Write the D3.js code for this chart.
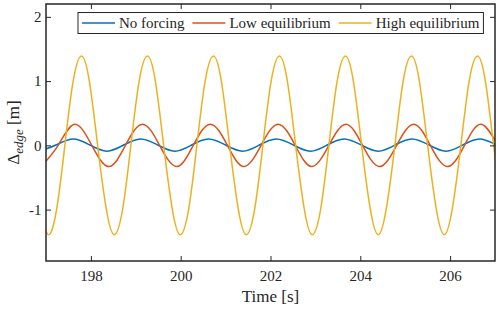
<!DOCTYPE html>
<html>
<head>
<meta charset="utf-8">
<script src="https://cdn.jsdelivr.net/npm/d3@7"></script>
<style>
  body { margin: 0; background: #fff; }
  svg { display: block; }
</style>
</head>
<body>
<div id="chart"></div>
<script>
// values (time in s, displacement in m)
var seriesNames = ["No forcing", "Low equilibrium", "High equilibrium"];
var seriesColors = ["#0072BD", "#D95319", "#EDB120"];
var serifFont = "Liberation Serif";
var inkColor = "#262626";

var noForcingT = [196.85, 197.22, 197.60, 197.98, 198.36, 198.73, 199.11, 199.49, 199.87, 200.24,
  200.62, 201.00, 201.38, 201.75, 202.13, 202.51, 202.89, 203.26, 203.64, 204.02,
  204.40, 204.77, 205.15, 205.53, 205.91, 206.28, 206.66, 207.04, 207.42];
var noForcingV = [-0.09, 0.005, 0.10, 0.005, -0.09, 0.005, 0.10, 0.005, -0.09, 0.005,
  0.10, 0.005, -0.09, 0.005, 0.10, 0.005, -0.09, 0.005, 0.10, 0.005,
  -0.09, 0.005, 0.10, 0.005, -0.09, 0.005, 0.10, 0.005, -0.09];

var lowEqT = [196.89, 197.27, 197.64, 198.02, 198.40, 198.77, 199.15, 199.53, 199.91, 200.28,
  200.66, 201.04, 201.41, 201.79, 202.17, 202.55, 202.92, 203.30, 203.68, 204.05,
  204.43, 204.81, 205.19, 205.56, 205.94, 206.32, 206.69, 207.07, 207.45];
var lowEqV = [-0.33, 0, 0.33, 0, -0.33, 0, 0.33, 0, -0.33, 0,
  0.33, 0, -0.33, 0, 0.33, 0, -0.33, 0, 0.33, 0,
  -0.33, 0, 0.33, 0, -0.33, 0, 0.33, 0, -0.33];

var highEqT = [196.87, 197.05, 197.24, 197.42, 197.60, 197.79, 197.97, 198.15, 198.34, 198.52,
  198.71, 198.89, 199.07, 199.26, 199.44, 199.62, 199.81, 199.99, 200.18, 200.36,
  200.54, 200.73, 200.91, 201.09, 201.28, 201.46, 201.65, 201.83, 202.01, 202.20,
  202.38, 202.56, 202.75, 202.93, 203.12, 203.30, 203.48, 203.67, 203.85, 204.03,
  204.22, 204.40, 204.58, 204.77, 204.95, 205.14, 205.32, 205.50, 205.69, 205.87,
  206.05, 206.24, 206.42, 206.61, 206.79, 206.97, 207.16];
var highEqV = [-0.98, -1.39, -0.98, 0, 0.98, 1.39, 0.98, 0,
  -0.98, -1.39, -0.98, 0, 0.98, 1.39, 0.98, 0,
  -0.98, -1.39, -0.98, 0, 0.98, 1.39, 0.98, 0,
  -0.98, -1.39, -0.98, 0, 0.98, 1.39, 0.98, 0,
  -0.98, -1.39, -0.98, 0, 0.98, 1.39, 0.98, 0,
  -0.98, -1.39, -0.98, 0, 0.98, 1.39, 0.98, 0,
  -0.98, -1.39, -0.98, 0, 0.98, 1.39, 0.98, 0,
  -0.98];

var xTicks = [198, 200, 202, 204, 206];
var yTicks = [-1, 0, 1, 2];

var width = 500, height = 310;
var margin = {top: 4, right: 5, bottom: 49, left: 46};

var svg = d3.select("#chart").append("svg")
    .attr("width", width)
    .attr("height", height);

var x = d3.scaleLinear().domain([197, 207]).range([margin.left, width - margin.right]);
var y = d3.scaleLinear().domain([-1.8, 2.2]).range([height - margin.bottom, margin.top]);

svg.append("defs").append("clipPath")
    .attr("id", "plotArea")
  .append("rect")
    .attr("x", x.range()[0])
    .attr("y", y.range()[1])
    .attr("width", x.range()[1] - x.range()[0])
    .attr("height", y.range()[0] - y.range()[1]);

var line = d3.line()
    .x(function(d) { return x(d[0]); })
    .y(function(d) { return y(d[1]); })
    .curve(d3.curveNatural);

var allSeries = [
  d3.zip(noForcingT, noForcingV),
  d3.zip(lowEqT, lowEqV),
  d3.zip(highEqT, highEqV)
];

var plot = svg.append("g").attr("clip-path", "url(#plotArea)");
allSeries.forEach(function(s, i) {
  plot.append("path")
      .datum(s)
      .attr("fill", "none")
      .attr("stroke", seriesColors[i])
      .attr("stroke-width", 1.5)
      .attr("d", line);
});

// axes, ticks pointing inward
function styleAxis(g) {
  g.attr("font-family", serifFont).attr("font-size", 15);
  g.select(".domain").remove();
  g.selectAll(".tick line").attr("stroke", inkColor).attr("stroke-width", 1);
  g.selectAll(".tick text").attr("fill", inkColor);
}

svg.append("g")
    .attr("transform", "translate(0," + y.range()[0] + ")")
    .call(d3.axisBottom(x).tickValues(xTicks).tickSizeInner(-5).tickSizeOuter(0).tickPadding(9))
    .call(styleAxis);
svg.append("g")
    .attr("transform", "translate(0," + y.range()[1] + ")")
    .call(d3.axisTop(x).tickValues(xTicks).tickSizeInner(-5).tickSizeOuter(0).tickFormat(""))
    .call(styleAxis);
svg.append("g")
    .attr("transform", "translate(" + x.range()[0] + ",0)")
    .call(d3.axisLeft(y).tickValues(yTicks).tickSizeInner(-5).tickSizeOuter(0).tickPadding(4.5)
      .tickFormat(function(d) { return d < 0 ? "-" + Math.abs(d) : String(d); }))
    .call(styleAxis);
svg.append("g")
    .attr("transform", "translate(" + x.range()[1] + ",0)")
    .call(d3.axisRight(y).tickValues(yTicks).tickSizeInner(-5).tickSizeOuter(0).tickFormat(""))
    .call(styleAxis);

svg.append("rect")
    .attr("x", x.range()[0])
    .attr("y", y.range()[1])
    .attr("width", x.range()[1] - x.range()[0])
    .attr("height", y.range()[0] - y.range()[1])
    .attr("fill", "none")
    .attr("stroke", inkColor)
    .attr("stroke-width", 1.5);

// axis labels
svg.append("text")
    .attr("x", (x.range()[0] + x.range()[1]) / 2)
    .attr("y", 301.5)
    .attr("text-anchor", "middle")
    .attr("font-family", serifFont)
    .attr("font-size", 17)
    .attr("fill", inkColor)
    .text("Time [s]");

var yLab = svg.append("text")
    .attr("transform", "translate(19," + (y.range()[0] + y.range()[1]) / 2 + ") rotate(-90)")
    .attr("text-anchor", "middle")
    .attr("font-family", serifFont)
    .attr("font-size", 17)
    .attr("fill", inkColor);
yLab.append("tspan").text("\u0394");
yLab.append("tspan").attr("dy", 3.5).attr("font-size", 13).attr("font-style", "italic").text("edge");
yLab.append("tspan").attr("dy", -3.5).text(" [m]");

// legend
var legend = svg.append("g").attr("transform", "translate(78,12.5)");
var legendBox = legend.append("rect")
    .attr("height", 21)
    .attr("fill", "#fff")
    .attr("stroke", inkColor)
    .attr("stroke-width", 1);
var cx = 4;
seriesNames.forEach(function(name, i) {
  legend.append("line")
      .attr("x1", cx).attr("x2", cx + 33)
      .attr("y1", 10.5).attr("y2", 10.5)
      .attr("stroke", seriesColors[i])
      .attr("stroke-width", 1.5);
  var t = legend.append("text")
      .attr("x", cx + 37)
      .attr("y", 15.3)
      .attr("font-family", serifFont)
      .attr("font-size", 15)
      .attr("fill", inkColor)
      .text(name);
  cx += 37 + t.node().getComputedTextLength() + (i < seriesNames.length - 1 ? 8 : 4);
});
legendBox.attr("width", cx);
</script>
</body>
</html>
